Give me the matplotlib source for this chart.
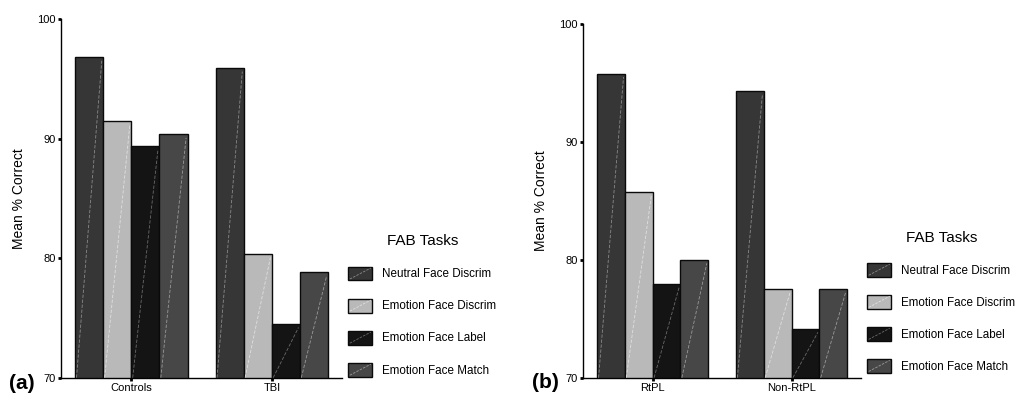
import matplotlib
matplotlib.use("Agg")
import matplotlib.pyplot as plt
import numpy as np
from matplotlib.patches import Rectangle
from matplotlib.lines import Line2D
from matplotlib.legend_handler import HandlerPatch

plt.rcParams['font.family'] = ['Liberation Sans', 'DejaVu Sans']

tasks = ["Neutral Face Discrim", "Emotion Face Discrim", "Emotion Face Label", "Emotion Face Match"]
groups_a = ["Controls", "TBI"]
values_a = {
    "Neutral Face Discrim": [96.8, 95.9],
    "Emotion Face Discrim": [91.5, 80.35],
    "Emotion Face Label": [89.4, 74.5],
    "Emotion Face Match": [90.35, 78.8],
}
groups_b = ["RtPL", "Non-RtPL"]
values_b = {
    "Neutral Face Discrim": [95.8, 94.3],
    "Emotion Face Discrim": [85.75, 77.55],
    "Emotion Face Label": [77.95, 74.15],
    "Emotion Face Match": [80.0, 77.55],
}
yticks = [70, 80, 90, 100]
colors = ["#363636", "#b9b9b9", "#141414", "#474747"]
line_colors = ["#8a8a8a", "#e0e0e0", "#6a6a6a", "#9a9a9a"]


class DiagHandler(HandlerPatch):
    def __init__(self, lc, **kw):
        super().__init__(**kw)
        self.lc = lc

    def create_artists(self, legend, orig_handle, xdescent, ydescent,
                       width, height, fontsize, trans):
        r = Rectangle((-xdescent, -ydescent), width, height,
                      facecolor=orig_handle.get_facecolor(),
                      edgecolor=orig_handle.get_edgecolor(),
                      linewidth=orig_handle.get_linewidth(), transform=trans)
        l = Line2D([-xdescent + 1, -xdescent + width - 1],
                   [-ydescent + 1, -ydescent + height - 1],
                   color=self.lc, lw=0.6, linestyle=(0, (3, 1.5)), transform=trans)
        return [r, l]


def draw(ax, groups, values, letter, leg_y):
    x = np.arange(len(groups))
    w = 0.2
    handles = []
    hmap = {}
    for i, t in enumerate(tasks):
        bars = ax.bar(x + (i - 1.5) * w, values[t], w, color=colors[i],
                      edgecolor="#0a0a0a", linewidth=1.0, label=t, zorder=2)
        for b in bars:
            y0 = 70
            ax.plot([b.get_x() + 0.01, b.get_x() + b.get_width() - 0.01],
                    [y0, b.get_height() - 0.3], color=line_colors[i],
                    lw=0.6, linestyle=(0, (4, 2)), zorder=3)
        handles.append(bars[0])
        hmap[bars[0]] = DiagHandler(line_colors[i])
    ax.set_xlim(-0.5, 1.5)
    ax.set_ylim(70, 100)
    ax.set_yticks(yticks)
    ax.set_xticks(x)
    ax.set_xticklabels(groups)
    ax.spines['top'].set_visible(False)
    ax.spines['right'].set_visible(False)
    ax.spines['left'].set_linewidth(1.0)
    ax.spines['bottom'].set_linewidth(1.0)
    ax.tick_params(axis='both', length=2, width=2, labelsize=8, pad=2)
    ax.set_ylabel("Mean % Correct", fontsize=10, labelpad=8)
    ax.text(-0.185, -0.015, letter, transform=ax.transAxes, fontsize=15,
            fontweight='bold', ha='left', va='center')
    leg = ax.legend(handles, tasks, handler_map=hmap, title="FAB Tasks",
                    loc='upper left', bbox_to_anchor=(1.006, leg_y),
                    frameon=False, fontsize=8.4, title_fontsize=11,
                    handlelength=2.04, handleheight=1.45, labelspacing=1.56,
                    handletextpad=0.85, borderaxespad=0)
    return leg


fig = plt.figure(figsize=(10.19, 3.94), dpi=100)
ax1 = fig.add_axes([0.0599, 0.0414, 0.2758, 0.9104])
ax2 = fig.add_axes([0.5724, 0.0414, 0.2725, 0.8977])
draw(ax1, groups_a, values_a, "(a)", 0.4125)
draw(ax2, groups_b, values_b, "(b)", 0.429)
fig.savefig("out.png", dpi=100)
